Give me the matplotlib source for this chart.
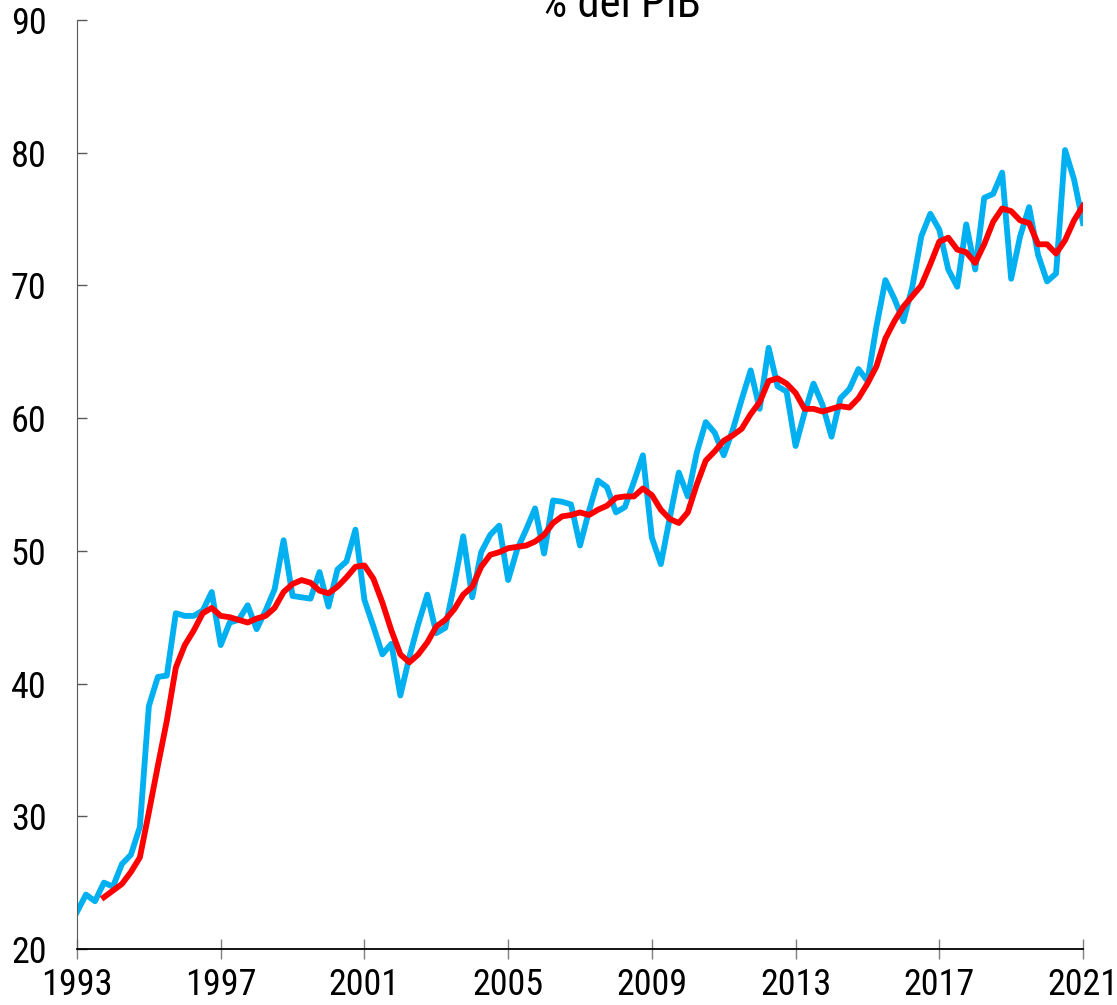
import matplotlib
matplotlib.use("Agg")
import matplotlib.pyplot as plt
from matplotlib import font_manager
import numpy as np

# narrow face if one is around, else plain sans
names = {f.name for f in font_manager.fontManager.ttflist}
narrow = [n for n in ['Roboto Condensed', 'Open Sans Condensed', 'DejaVu Sans Condensed',
                      'Liberation Sans Narrow'] if n in names]
plt.rcParams['font.family'] = narrow + ['Liberation Sans', 'DejaVu Sans']
LABEL_SIZE = 26 if narrow else 23

# quarterly, 1993Q1 .. 2021Q1
quarters = 1993 + np.arange(113) * 0.25

share = [22.8, 24.1, 23.6, 25.0, 24.7, 26.4, 27.1, 29.2,
         38.3, 40.5, 40.6, 45.3, 45.1, 45.1, 45.5, 46.9,
         42.9, 44.6, 44.8, 45.9, 44.1, 45.5, 47.1, 50.8,
         46.6, 46.5, 46.4, 48.4, 45.8, 48.6, 49.2, 51.6,
         46.3, 44.3, 42.2, 43.0, 39.1, 42.0, 44.5, 46.7,
         43.8, 44.2, 47.5, 51.1, 46.5, 49.9, 51.2, 51.9,
         47.8, 50.1, 51.6, 53.2, 49.8, 53.8, 53.7, 53.5,
         50.4, 53.0, 55.3, 54.8, 52.9, 53.3, 55.2, 57.2,
         51.0, 49.0, 52.5, 55.9, 54.1, 57.4, 59.7, 58.9,
         57.2, 59.1, 61.4, 63.6, 60.7, 65.3, 62.4, 62.0,
         57.9, 60.4, 62.6, 61.0, 58.6, 61.5, 62.2, 63.7,
         62.8, 66.9, 70.4, 69.0, 67.3, 69.9, 73.7, 75.4,
         74.2, 71.2, 69.9, 74.6, 71.2, 76.6, 76.9, 78.5,
         70.5, 73.7, 75.9, 72.3, 70.3, 70.9, 80.2, 78.0,
         74.7]

# 4-quarter average line, starts at 1993Q4
share_avg = [23.9, 24.4, 24.9, 25.8, 26.9,
             30.3, 33.8, 37.2, 41.2, 42.9, 44.0, 45.3, 45.7,
             45.1, 45.0, 44.8, 44.6, 44.9, 45.1, 45.7, 46.9,
             47.5, 47.8, 47.6, 47.0, 46.8, 47.3, 48.0, 48.8,
             48.9, 47.9, 46.1, 44.0, 42.2, 41.6, 42.2, 43.1,
             44.3, 44.8, 45.6, 46.7, 47.3, 48.8, 49.7, 49.9,
             50.2, 50.3, 50.4, 50.7, 51.2, 52.1, 52.6, 52.7,
             52.9, 52.7, 53.1, 53.4, 54.0, 54.1, 54.1, 54.7,
             54.2, 53.1, 52.4, 52.1, 52.9, 55.0, 56.8, 57.5,
             58.3, 58.7, 59.2, 60.3, 61.2, 62.8, 63.0, 62.6,
             61.9, 60.7, 60.7, 60.5, 60.7, 60.9, 60.8, 61.5,
             62.6, 63.9, 66.0, 67.3, 68.4, 69.2, 70.0, 71.6,
             73.3, 73.6, 72.7, 72.5, 71.7, 73.1, 74.8, 75.8,
             75.6, 74.9, 74.7, 73.1, 73.1, 72.4, 73.4, 74.9,
             76.0]

year_ticks = [1993, 1997, 2001, 2005, 2009, 2013, 2017, 2021]

fig = plt.figure(figsize=(11.17, 10.05), dpi=100)
ax = fig.add_axes([77 / 1117, 1 - 949 / 1005, (1083 - 77) / 1117, (949 - 20) / 1005])

ax.plot(quarters, share, color='#00B0F0', lw=4.2)
ax.plot(quarters[3:], share_avg, color='#FF0000', lw=4.2)

ax.set_xlim(1993, 2021)
ax.set_ylim(20, 90)
ax.set_xticks(year_ticks)
ax.set_yticks(range(20, 91, 10))

for s in ['top', 'right']:
    ax.spines[s].set_visible(False)
ax.spines['left'].set_color('#595959')
ax.spines['bottom'].set_color('black')
ax.spines['bottom'].set_linewidth(1.3)

ax.tick_params(axis='x', direction='inout', length=14, width=1, color='#7f7f7f',
               labelsize=LABEL_SIZE, pad=6)
ax.tick_params(axis='y', direction='in', length=7, width=1, color='#595959',
               labelsize=LABEL_SIZE, pad=22)

# title sits partly above the top edge, as in the source image
fig.text(620 / 1117, 1 - 17 / 1005, '% del PIB', fontsize=32, ha='center', va='baseline')

fig.savefig('out.png', dpi=100)
